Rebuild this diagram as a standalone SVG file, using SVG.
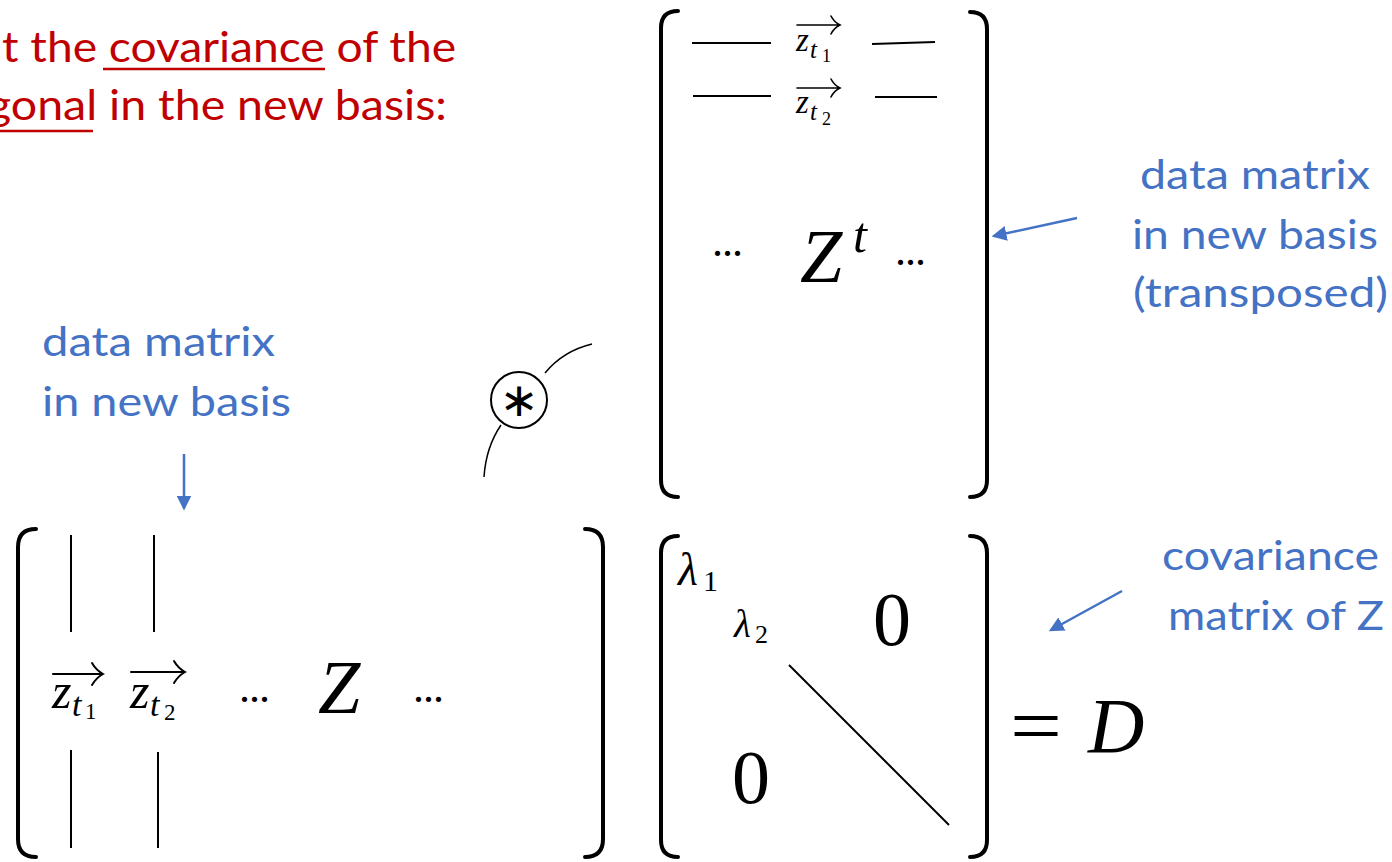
<svg xmlns="http://www.w3.org/2000/svg" width="1392" height="862" viewBox="0 0 1392 862">
<defs>
<style>
.red{fill:#C00000;font-family:Lato,"Open Sans","Liberation Sans",sans-serif;font-size:43px}
.blue{fill:#4472C4;font-family:Lato,"Open Sans","Liberation Sans",sans-serif;font-size:41px}
.mi{font-family:"Liberation Serif","DejaVu Serif",serif;font-style:italic;fill:#000}
.mr{font-family:"Liberation Serif","DejaVu Serif",serif;fill:#000}
.br{fill:none;stroke:#000;stroke-width:4;stroke-linecap:round}
.ln{fill:none;stroke:#000;stroke-width:2}
.vec{fill:none;stroke:#000;stroke-width:1.6;stroke-linecap:round}
.conn{fill:none;stroke:#4472C4;stroke-width:2.5}
.ul{stroke:#C00000;stroke-width:2.5}
</style>
<marker id="ah" markerWidth="6" markerHeight="6" refX="5" refY="3" orient="auto" markerUnits="strokeWidth">
<path d="M0,0 L6,3 L0,6 Z" fill="#4472C4"/>
</marker>
</defs>
<rect width="1392" height="862" fill="#fff"/>

<g id="title">
<text class="red" x="2" y="62" textLength="454" lengthAdjust="spacingAndGlyphs">t the covariance of the</text>
<text class="red" x="-13" y="120" textLength="460" lengthAdjust="spacingAndGlyphs">gonal in the new basis:</text>
<line class="ul" x1="103" y1="69" x2="325" y2="69"/>
<line class="ul" x1="0" y1="131" x2="93" y2="131"/>
</g>

<g id="label-Z">
<text class="blue" x="42" y="356" textLength="233" lengthAdjust="spacingAndGlyphs">data matrix</text>
<text class="blue" x="42" y="416" textLength="249" lengthAdjust="spacingAndGlyphs">in new basis</text>
</g>

<g id="label-Zt">
<text class="blue" x="1140" y="189" textLength="230" lengthAdjust="spacingAndGlyphs">data matrix</text>
<text class="blue" x="1132" y="249" textLength="246" lengthAdjust="spacingAndGlyphs">in new basis</text>
<text class="blue" x="1133" y="307" textLength="255" lengthAdjust="spacingAndGlyphs">(transposed)</text>
</g>

<g id="label-D">
<text class="blue" x="1162" y="570" textLength="217" lengthAdjust="spacingAndGlyphs">covariance</text>
<text class="blue" x="1168" y="630" textLength="216" lengthAdjust="spacingAndGlyphs">matrix of Z</text>
</g>

<g id="matrix-Zt">
<path class="br" d="M678 11 Q661 11 661 28 L661 480 Q661 497 678 497"/>
<path class="br" d="M970 12 Q987 12 987 29 L987 480 Q987 497 970 497"/>
<line class="ln" x1="692" y1="43" x2="771" y2="43"/>
<line class="ln" x1="872" y1="44" x2="935" y2="42"/>
<line class="ln" x1="693" y1="96" x2="771" y2="96"/>
<line class="ln" x1="875" y1="97" x2="937" y2="97"/>
<path class="vec" d="M797 25 L840 25 M831 16 Q834 22 840 25 Q834 28 831 34"/>
<text class="mi" x="796" y="51" font-size="33">z</text>
<text class="mi" x="810" y="58" font-size="25">t</text>
<text class="mr" x="822" y="62" font-size="18">1</text>
<path class="vec" d="M797 88 L840 88 M831 79 Q834 85 840 88 Q834 91 831 97"/>
<text class="mi" x="796" y="113" font-size="33">z</text>
<text class="mi" x="810" y="120" font-size="25">t</text>
<text class="mr" x="822" y="125" font-size="18">2</text>
<text class="mr" x="712" y="256" font-size="44" letter-spacing="-1">...</text>
<text class="mi" x="800" y="282" font-size="76">Z</text>
<text class="mi" x="853" y="252" font-size="50">t</text>
<text class="mr" x="895" y="265" font-size="44" letter-spacing="-1">...</text>
</g>

<g id="matrix-Z">
<path class="br" d="M36 529 Q18 529 18 547 L18 839 Q18 857 36 857"/>
<path class="br" d="M585 529 Q603 529 603 547 L603 839 Q603 857 585 857"/>
<line class="ln" x1="71" y1="535" x2="71" y2="632"/>
<line class="ln" x1="154" y1="535" x2="154" y2="632"/>
<line class="ln" x1="71" y1="750" x2="71" y2="848"/>
<line class="ln" x1="158" y1="752" x2="158" y2="848"/>
<path class="vec" style="stroke-width:2" d="M53 674 L103 674 M92 663 Q96 670 103 674 Q96 678 92 685"/>
<text class="mi" x="52" y="708" font-size="50">z</text>
<text class="mi" x="72" y="716" font-size="34">t</text>
<text class="mr" x="85" y="719" font-size="23">1</text>
<path class="vec" style="stroke-width:2" d="M131 672 L185 672 M174 661 Q178 668 185 672 Q178 676 174 683"/>
<text class="mi" x="130" y="708" font-size="50">z</text>
<text class="mi" x="150" y="716" font-size="34">t</text>
<text class="mr" x="164" y="720" font-size="23">2</text>
<text class="mr" x="239" y="702" font-size="44" letter-spacing="-1">...</text>
<text class="mi" x="318" y="713" font-size="76">Z</text>
<text class="mr" x="413" y="702" font-size="44" letter-spacing="-1">...</text>
</g>

<g id="matrix-D">
<path class="br" d="M678 536 Q661 536 661 553 L661 840 Q661 857 678 857"/>
<path class="br" d="M970 536 Q987 536 987 553 L987 840 Q987 857 970 857"/>
<text class="mi" x="678" y="585" font-size="46">λ</text>
<text class="mr" x="703" y="591" font-size="30">1</text>
<text class="mi" x="734" y="637" font-size="39">λ</text>
<text class="mr" x="755" y="643" font-size="26">2</text>
<text class="mr" x="892" y="645" font-size="76" text-anchor="middle">0</text>
<text class="mr" x="751" y="803" font-size="76" text-anchor="middle">0</text>
<line class="ln" x1="789" y1="665" x2="949" y2="825"/>
</g>

<g id="equals-D">
<text class="mr" x="1010" y="753" font-size="80" textLength="52" lengthAdjust="spacingAndGlyphs">=</text>
<text class="mi" x="1088" y="752" font-size="78">D</text>
</g>

<g id="product">
<circle cx="519" cy="400" r="28" fill="none" stroke="#000" stroke-width="2"/>
<text x="519" y="416" font-size="47" text-anchor="middle" font-family="DejaVu Sans, sans-serif">∗</text>
</g>

<g id="connectors">
<path d="M545 373 Q563 351 592 344" fill="none" stroke="#000" stroke-width="1.5"/>
<path d="M501 425 Q486 447 484 477" fill="none" stroke="#000" stroke-width="1.5"/>
<line class="conn" x1="1077" y1="218" x2="994" y2="236" marker-end="url(#ah)"/>
<line class="conn" x1="184" y1="454" x2="184" y2="508" marker-end="url(#ah)"/>
<line class="conn" x1="1122" y1="591" x2="1051" y2="630" marker-end="url(#ah)"/>
</g>
</svg>
